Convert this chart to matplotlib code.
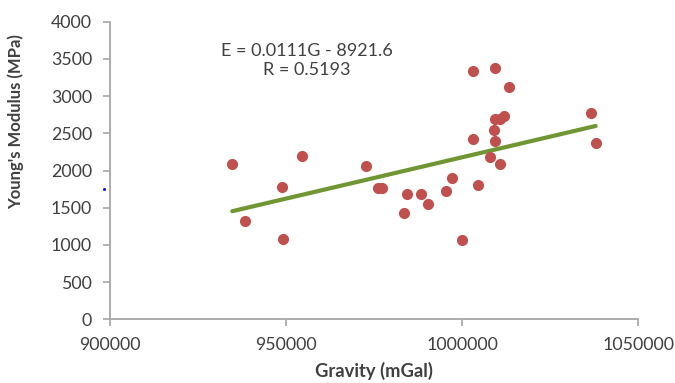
import numpy as np
import matplotlib
matplotlib.use("Agg")
from matplotlib import pyplot as plt

plt.rcParams['font.family'] = ['Lato', 'DejaVu Sans']

# gravity (mGal) vs Young's modulus (MPa)
gravity = [934720, 954590, 948750, 972590, 976230, 977220, 938330, 949200,
           1002970, 1009390, 1013270, 1036560, 1037890, 1009390, 1010720,
           1011770, 1008930, 1002970, 1009390, 1007970, 1010720, 997090,
           1004390, 983470, 990280, 999930, 984400, 988210, 995480]
modulus = [2092, 2200, 1775, 2061, 1770, 1770, 1327, 1077,
           3333, 3374, 3122, 2773, 2374, 2689, 2689,
           2729, 2541, 2424, 2397, 2186, 2084, 1900,
           1810, 1434, 1551, 1064, 1685, 1685, 1722]

# trendline as printed on the chart
slope = 0.0111
intercept = -8921.6
eq_text = 'E = 0.0111G - 8921.6\nR = 0.5193'
xticks = [900000, 950000, 1000000, 1050000]
yticks = list(range(0, 4001, 500))

txt = '#404040'
grey = '#a6a6a6'

fig = plt.figure(figsize=(6.75, 3.83), dpi=100)
ax = fig.add_axes([0.163, 0.166, 0.7826, 0.7774])

g = np.array(gravity)
e = np.array(modulus)
gl = np.array([g.min(), g.max()])
ax.plot(gl, slope * gl + intercept, color='#6f9632', lw=3,
        solid_capstyle='round', zorder=2)
ax.plot(g, e, 'o', ms=7, color='#c0504d', mec='#c0504d', zorder=3)

# stray blue dot left of the axis
ax.plot([898300], [1753], 's', ms=1.0, color='blue', clip_on=False)

ax.set_xlim(900000, 1050000)
ax.set_ylim(0, 4000)
ax.set_xticks(xticks)
ax.set_yticks(yticks)
ax.set_xticklabels([str(t) for t in xticks])

for s in ['top', 'right']:
    ax.spines[s].set_visible(False)
for s in ['left', 'bottom']:
    ax.spines[s].set_color(grey)
    ax.spines[s].set_linewidth(1.3)
ax.tick_params(colors=grey, labelcolor=txt, labelsize=12.8, length=5, width=1.2)
ax.tick_params(axis='x', pad=8)
ax.tick_params(axis='y', pad=8)

ax.set_xlabel('Gravity (mGal)', fontsize=13.2, weight='bold', color=txt, labelpad=6)
ax.set_ylabel("Young's Modulus (MPa)", fontsize=12, weight='bold', color=txt)
ax.yaxis.set_label_coords(-0.162, 0.665)

ax.text(0.372, 0.93, eq_text, transform=ax.transAxes, ha='center', va='top',
        fontsize=13, color=txt, linespacing=1.25)

fig.savefig('out.png', dpi=100)
